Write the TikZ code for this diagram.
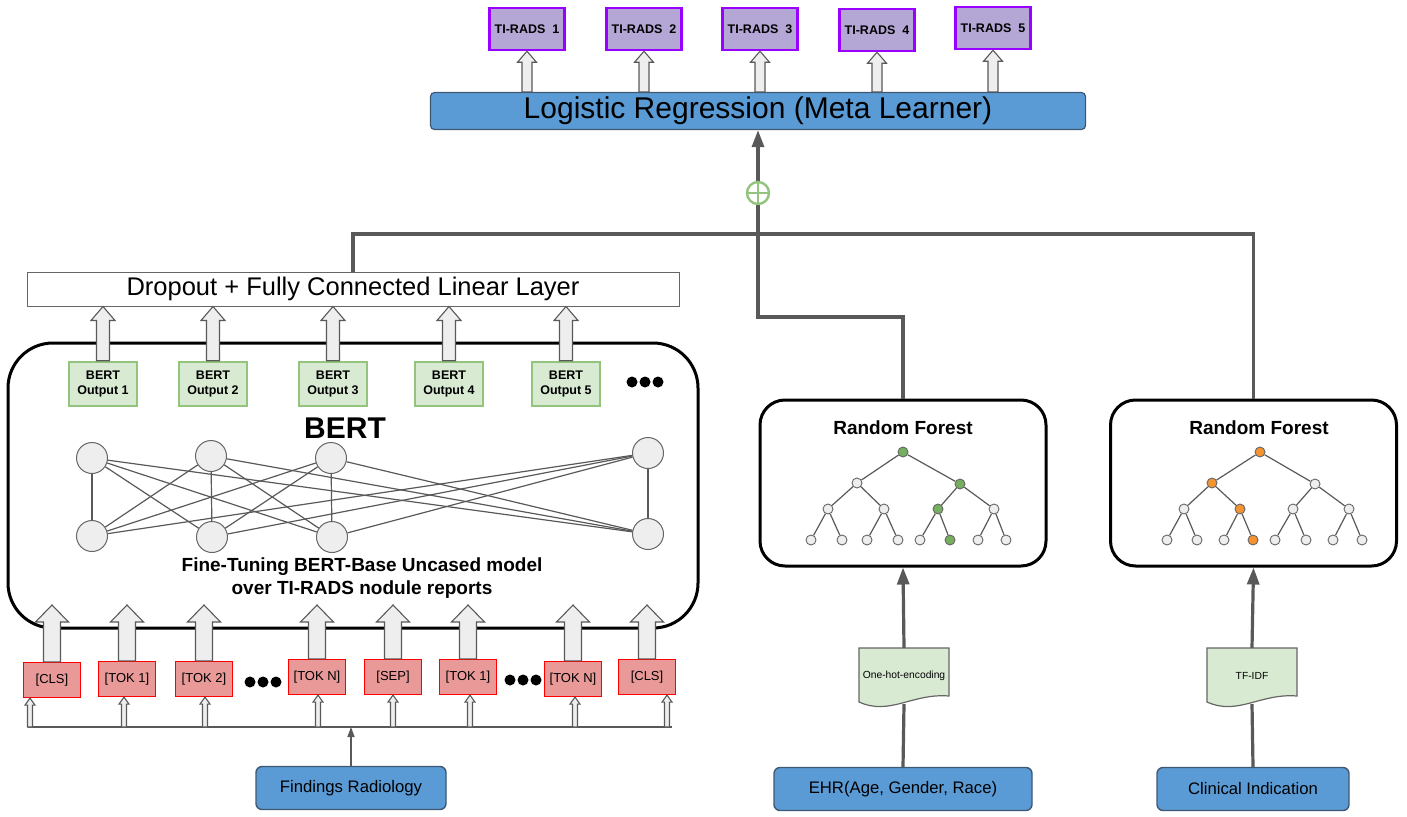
\documentclass[tikz,border=0pt]{standalone}
\usepackage{fontspec}
\setmainfont{Liberation Sans}
\usetikzlibrary{arrows.meta,calc}

\definecolor{lrblue}{HTML}{5B9BD5}
\definecolor{blueborder}{HTML}{3F5873}
\definecolor{purpf}{HTML}{B4A7D6}
\definecolor{purpd}{HTML}{9900FF}
\definecolor{grnf}{HTML}{D9EAD3}
\definecolor{grnd}{HTML}{93C47D}
\definecolor{redf}{HTML}{EA9999}
\definecolor{redd}{HTML}{FF0000}
\definecolor{lineg}{HTML}{595959}
\definecolor{arrf}{HTML}{EEEEEE}
\definecolor{nodeg}{HTML}{EEEEEE}
\definecolor{nodeb}{HTML}{666666}
\definecolor{treeg}{HTML}{76AF5E}
\definecolor{treeo}{HTML}{F59331}

% hollow block arrow from #1 (tail) to #2 (tip); #3 shaft half width, #4 head half width, #5 head length
\newcommand\blkarrow[5]{%
  \draw[blkarr] let \p1=(#1), \p2=(#2) in
    (\x1-#3,\y1) -- (\x1-#3,\y2-#5) -- (\x1-#4,\y2-#5) -- (\x1,\y2)
    -- (\x1+#4,\y2-#5) -- (\x1+#3,\y2-#5) -- (\x1+#3,\y1) -- cycle;}

% document shape with wavy bottom: #1 centre x, #2 top y
\newcommand\docshape[2]{%
  \filldraw[docsty] ({#1-45},#2) -- ({#1+45},#2) -- ({#1+45},{#2+48})
    .. controls ({#1+8},{#2+45}) and ({#1-14},{#2+68}) .. ({#1-45},{#2+54}) -- cycle;}

\begin{document}
\begin{tikzpicture}[x=1pt,y=-1pt,
  tirads/.style={draw=purpd, line width=2.5pt, fill=purpf, minimum width=75pt, minimum height=42pt, inner sep=0pt, font=\bfseries\fontsize{12.5}{14}\selectfont},
  lrbox/.style={draw=blueborder, line width=1.2pt, fill=lrblue, rounded corners=4pt, minimum width=655pt, minimum height=37pt, inner sep=0pt, font=\fontsize{30}{34}\selectfont},
  dropbox/.style={draw=nodeb, line width=1pt, fill=white, minimum width=652pt, minimum height=34pt, inner sep=0pt, font=\fontsize{25.5}{28}\selectfont},
  bertbox/.style={draw=black, line width=3pt, rounded corners=45pt, minimum width=690pt, minimum height=285pt, inner sep=0pt},
  outbox/.style={draw=grnd, fill=grnf, line width=2.5pt, minimum width=68pt, minimum height=44pt, inner sep=0pt, align=center, font=\bfseries\fontsize{12.5}{15}\selectfont},
  tok/.style={draw=redd, fill=redf, line width=1.2pt, minimum width=57pt, minimum height=35pt, inner sep=0pt, font=\fontsize{13}{15}\selectfont},
  bluebox/.style={draw=blueborder, fill=lrblue, rounded corners=6pt, line width=1.4pt, minimum height=43pt, inner sep=0pt, font=\fontsize{16.7}{19}\selectfont},
  rfbox/.style={draw=black, line width=3pt, rounded corners=25pt, minimum width=286pt, minimum height=166pt, inner sep=0pt},
  nn/.style={circle, draw=nodeb, fill=nodeg, minimum size=31pt, inner sep=0pt, line width=1pt},
  nedge/.style={draw=lineg, line width=1.2pt},
  tn/.style={circle, draw=nodeb, fill=nodeg, minimum size=10pt, inner sep=0pt, line width=0.9pt},
  tedge/.style={draw=lineg, line width=1.2pt},
  conn/.style={draw=lineg, line width=3.2pt},
  thinconn/.style={draw=lineg, line width=1.4pt},
  blkarr/.style={draw=lineg, fill=arrf, line width=1.1pt, line join=miter},
  docsty/.style={draw=nodeb, fill=grnf, line width=1.2pt},
  title/.style={font=\bfseries\fontsize{19}{22}\selectfont},
  bigtip/.style={-{Triangle[length=17pt,width=12pt]}},
]
\useasboundingbox (0,0) rectangle (1407,816);

% ---------------- Top: Logistic regression and TI-RADS ----------------
\node[lrbox] (lr) at (758,111) {Logistic Regression (Meta Learner)};
\node[tirads] (r1) at (527,29) {TI-RADS~~1};
\node[tirads] (r2) at (644,29) {TI-RADS~~2};
\node[tirads] (r3) at (760,29) {TI-RADS~~3};
\node[tirads] (r4) at (877,30) {TI-RADS~~4};
\node[tirads] (r5) at (993,28) {TI-RADS~~5};
\foreach \r in {r1,r2,r3,r4,r5}
  \blkarrow{\r.south |- lr.north}{\r.south}{5pt}{9.5pt}{11pt};

% ---------------- BERT branch ----------------
\node[dropbox] (drop) at (353,289) {Dropout + Fully Connected Linear Layer};
\node[bertbox] (bert) at (353,485.5) {};

\node[outbox] (o1) at (103,384) {BERT\\Output 1};
\node[outbox] (o2) at (213,384) {BERT\\Output 2};
\node[outbox] (o3) at (333,384) {BERT\\Output 3};
\node[outbox] (o4) at (449,384) {BERT\\Output 4};
\node[outbox] (o5) at (566,384) {BERT\\Output 5};
\foreach \o in {o1,o2,o3,o4,o5}
  \blkarrow{\o.north}{\o.north |- drop.south}{6.5pt}{12pt}{14pt};
\foreach \x in {632,645,658} \fill (\x,382) circle (5.5);

\node[font=\bfseries\fontsize{30}{34}\selectfont] (btitle) at (345,428) {BERT};

\node[nn] (u1) at (92,458) {};
\node[nn] (u2) at (211,456) {};
\node[nn] (u3) at (331,458) {};
\node[nn] (u4) at (648,453) {};
\node[nn] (d1) at (92,536) {};
\node[nn] (d2) at (212,537) {};
\node[nn] (d3) at (332,537) {};
\node[nn] (d4) at (648,534) {};
\foreach \u in {u1,u2,u3,u4}
  \foreach \d in {d1,d2,d3,d4}
    \draw[nedge] (\u) -- (\d);

\node[align=center, font=\bfseries\fontsize{19}{23}\selectfont] (ft) at (362,578)
  {Fine-Tuning BERT-Base Uncased model\\over TI-RADS nodule reports};

% tokens
\node[tok] (t1) at (52,680) {[CLS]};
\node[tok] (t2) at (127,679) {[TOK 1]};
\node[tok] (t3) at (204,679) {[TOK 2]};
\node[tok] (t4) at (317,677) {[TOK N]};
\node[tok] (t5) at (393,677) {[SEP]};
\node[tok] (t6) at (468,677) {[TOK 1]};
\node[tok] (t7) at (573,679) {[TOK N]};
\node[tok] (t8) at (647,677) {[CLS]};
\foreach \x in {250,263,276} \fill (\x,682) circle (5.5);
\foreach \x in {510,523,536} \fill (\x,680) circle (5.5);

\coordinate (bin) at (0,605);
\foreach \t in {t1,t2,t3,t4,t5,t6,t7,t8}
  \blkarrow{\t.north}{\t.north |- bin}{8.5pt}{16.5pt}{17pt};

% input distribution line
\coordinate (bl) at (28,727);
\coordinate (br) at (672,727);
\draw[draw=lineg, line width=1.8pt] (bl) -- (br);
\foreach \x/\t [count=\i] in {30/t1,124/t2,205/t3,318/t4,393/t5,470/t6,575/t7,667/t8}{
  \coordinate (s\i) at (\x,727);
  \blkarrow{s\i}{s\i |- \t.south}{2.5pt}{5pt}{7pt};
}

\node[bluebox, minimum width=190pt] (find) at (351,788) {Findings Radiology};
\draw[thinconn, -{Triangle[length=10pt,width=7pt]}] (find.north) -- (find.north |- bl);

% ---------------- Random forests ----------------
\node[rfbox] (rf1) at (903,483) {};
\node[rfbox] (rf2) at (1253.5,483) {};
\node[title] (rt1) at (903,428) {Random Forest};
\node[title] (rt2) at (1259,428) {Random Forest};

% tree 1
\foreach \n/\x/\y/\c in {r/903/452/treeg, a/857/483/nodeg, b/960/484/treeg,
   aa/828/509/nodeg, ab/884/509/nodeg, ba/938/509/treeg, bb/994/509/nodeg,
   aaa/811/540/nodeg, aab/842/540/nodeg, aba/867/540/nodeg, abb/898/540/nodeg,
   baa/920/540/nodeg, bab/950/540/treeg, bba/978/540/nodeg, bbb/1006/540/nodeg}
  \node[tn, fill=\c] (A\n) at (\x,\y) {};
% tree 2
\foreach \n/\x/\y/\c in {r/1260/452/treeo, a/1212/483/treeo, b/1315/484/nodeg,
   aa/1184/509/nodeg, ab/1240/509/treeo, ba/1293/509/nodeg, bb/1349/509/nodeg,
   aaa/1167/540/nodeg, aab/1197/540/nodeg, aba/1224/540/nodeg, abb/1253/540/treeo,
   baa/1275/540/nodeg, bab/1306/540/nodeg, bba/1333/540/nodeg, bbb/1362/540/nodeg}
  \node[tn, fill=\c] (B\n) at (\x,\y) {};
\foreach \T in {A,B}
  \foreach \p/\q in {r/a, r/b, a/aa, a/ab, b/ba, b/bb, aa/aaa, aa/aab, ab/aba, ab/abb,
                     ba/baa, ba/bab, bb/bba, bb/bbb}
    \draw[tedge] (\T\p) -- (\T\q);

% inputs of random forests
\node[bluebox, minimum width=258pt] (ehr) at (903,789) {EHR(Age, Gender, Race)};
\node[bluebox, minimum width=192pt] (clin) at (1253,789) {Clinical Indication};

\docshape{904}{648}
\node[minimum width=90pt, minimum height=56pt, inner sep=0pt, font=\fontsize{10.3}{12}\selectfont] (doc1) at (904,676) {One-hot-encoding};
\docshape{1252}{648}
\node[minimum width=90pt, minimum height=56pt, inner sep=0pt, font=\fontsize{10.3}{12}\selectfont] (doc2) at (1252,676) {TF-IDF};

\draw[conn] (ehr.north) -- (doc1.south);
\draw[conn, bigtip] (doc1.north) -- (rf1.south);
\draw[conn] (clin.north) -- (doc2.south);
\draw[conn, bigtip] (doc2.north) -- (rf2.south);

% ---------------- merge to meta learner ----------------
\coordinate (j) at (758,234);
\coordinate (bend) at (758,317);
\draw[conn] (drop.north) |- (rf2.north |- j) -- (rf2.north);
\draw[conn, bigtip] (rf1.north) |- (bend) -- (lr.south);

\node[circle, draw=grnd, line width=2.4pt, fill=white, minimum size=22pt, inner sep=0pt] (plus) at (758,193) {};
\draw[draw=grnd, line width=2.4pt] (plus.north) -- (plus.south) (plus.west) -- (plus.east);
\end{tikzpicture}
\end{document}
